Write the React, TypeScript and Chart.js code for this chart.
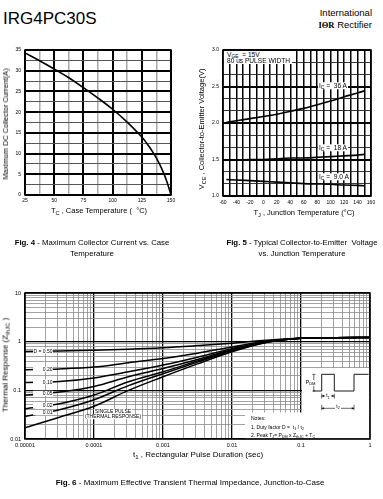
import React, { useEffect, useRef } from "react";
import { Chart, registerables } from "chart.js";

Chart.register(...registerables);

const FONT = "'Liberation Sans', Arial, Helvetica, sans-serif";

// ---------- Fig. 4 : Maximum collector current vs case temperature ----------
const fig4CaseTemp = [25, 37.5, 50, 62.5, 75, 87.5, 100, 112.5, 125, 130, 135, 140, 144, 147, 150];
const fig4MaxCurrent = [34.3, 32.4, 30.4, 28.3, 25.9, 23.4, 20.7, 17.6, 14.0, 12.2, 10.1, 7.6, 5.1, 2.8, 0];
const fig4XTickValues = [25, 50, 75, 100, 125, 150];
const fig4XTickLabels = ["25", "50", "75", "100", "125", "150"];
const fig4YTickValues = [0, 5, 10, 15, 20, 25, 30, 35];
const fig4YTickLabels = ["0", "5", "10", "15", "20", "25", "30", "35"];

// ---------- Fig. 5 : VCE vs junction temperature ----------
const fig5JunctionTemp = [-55, -40, -20, 0, 20, 40, 60, 80, 100, 120, 140, 150];
const fig5Vce36A = [2.01, 2.03, 2.06, 2.09, 2.12, 2.16, 2.2, 2.25, 2.3, 2.36, 2.41, 2.44];
const fig5Vce18A = [1.49, 1.49, 1.5, 1.5, 1.51, 1.52, 1.52, 1.53, 1.54, 1.55, 1.56, 1.57];
const fig5Vce9A = [1.225, 1.22, 1.21, 1.2, 1.19, 1.18, 1.17, 1.165, 1.16, 1.15, 1.145, 1.14];
const fig5XTickValues = [-60, -40, -20, 0, 20, 40, 60, 80, 100, 120, 140, 160];
const fig5XTickLabels = ["-60", "-40", "-20", "0", "20", "40", "60", "80", "100", "120", "140", "160"];
const fig5YTickValues = [1.0, 1.5, 2.0, 2.5, 3.0];
const fig5YTickLabels = ["1.0", "1.5", "2.0", "2.5", "3.0"];

// ---------- Fig. 6 : Transient thermal impedance ----------
const fig6PulseDuration = [0.00001, 0.0000316, 0.0001, 0.000316, 0.001, 0.00316, 0.01, 0.0316, 0.1, 0.316, 1];
const fig6D050 = [0.63, 0.645, 0.67, 0.7, 0.75, 0.83, 0.93, 1.07, 1.18, 1.21, 1.22];
const fig6D020 = [0.265, 0.275, 0.3, 0.37, 0.45, 0.58, 0.78, 1.02, 1.17, 1.21, 1.22];
const fig6D010 = [0.145, 0.152, 0.18, 0.24, 0.33, 0.48, 0.72, 1.0, 1.17, 1.21, 1.22];
const fig6D005 = [0.08, 0.092, 0.12, 0.19, 0.28, 0.43, 0.69, 0.99, 1.17, 1.21, 1.22];
const fig6D002 = [0.042, 0.053, 0.08, 0.15, 0.24, 0.4, 0.66, 0.98, 1.17, 1.21, 1.22];
const fig6D001 = [0.029, 0.04, 0.064, 0.125, 0.22, 0.38, 0.64, 0.97, 1.17, 1.21, 1.22];
const fig6Single = [0.017, 0.028, 0.047, 0.1, 0.19, 0.35, 0.62, 0.96, 1.17, 1.21, 1.22];
const fig6Series = [fig6D050, fig6D020, fig6D010, fig6D005, fig6D002, fig6D001, fig6Single];
const fig6DutyLabels = ["D = 0.50", "0.20", "0.10", "0.05", "0.02", "0.01"];
const fig6XTickValues = [0.00001, 0.0001, 0.001, 0.01, 0.1, 1];
const fig6XTickLabels = ["0.00001", "0.0001", "0.001", "0.01", "0.1", "1"];
const fig6YTickValues = [0.01, 0.1, 1, 10];
const fig6YTickLabels = ["0.01", "0.1", "1", "10"];

// ---------- helpers ----------
function stepTicks(min: number, max: number, step: number) {
  const out: number[] = [];
  const n = Math.round((max - min) / step);
  for (let i = 0; i <= n; i++) out.push(+(min + i * step).toFixed(6));
  return out;
}
function logGridValues(minExp: number, maxExp: number) {
  const out: number[] = [];
  for (let e = minExp; e < maxExp; e++)
    for (let m = 1; m <= 9; m++) out.push(+(m * Math.pow(10, e)).toPrecision(6));
  out.push(+Math.pow(10, maxExp).toPrecision(6));
  return out;
}
function same(a: number, b: number) {
  return Math.abs(a - b) <= 1e-6 * Math.max(Math.abs(a), Math.abs(b), 1e-12);
}
function isIn(values: number[], v: any) {
  return typeof v === "number" && values.some((t) => same(t, v));
}
function labelFor(values: number[], labels: string[], v: any) {
  const i = values.findIndex((t) => same(t, v));
  return i >= 0 ? labels[i] : "";
}
function interpLogLog(xs: number[], ys: number[], x: number) {
  const lx = Math.log10(x);
  for (let i = 0; i < xs.length - 1; i++) {
    const a = Math.log10(xs[i]);
    const b = Math.log10(xs[i + 1]);
    if (lx >= a && lx <= b) {
      const t = (lx - a) / (b - a);
      return Math.pow(10, Math.log10(ys[i]) + t * (Math.log10(ys[i + 1]) - Math.log10(ys[i])));
    }
  }
  return ys[0];
}
const tickFont = (size: number) => ({ family: FONT, size });
const gridStyle = (majors: number[], majorColor: string, minorColor: string, majorW: number, minorW: number) => ({
  drawTicks: false,
  color: (c: any) => (c.tick && isIn(majors, c.tick.value) ? majorColor : minorColor),
  lineWidth: (c: any) => (c.tick && isIn(majors, c.tick.value) ? majorW : minorW),
});

const framePlugin = {
  id: "frame",
  afterDatasetsDraw(chart: any) {
    const { ctx, chartArea: a } = chart;
    ctx.save();
    ctx.strokeStyle = "#000";
    ctx.lineWidth = 1.5;
    ctx.strokeRect(a.left, a.top, a.right - a.left, a.bottom - a.top);
    ctx.restore();
  },
};

const baseOptions = {
  animation: false,
  responsive: false,
  devicePixelRatio: 1,
  events: [],
  plugins: { legend: { display: false }, tooltip: { enabled: false } },
};

const lineDs = (xs: number[], ys: number[], w = 1.6, smooth: any = { cubicInterpolationMode: "monotone" }) => ({
  data: xs.map((x, i) => ({ x, y: ys[i] })),
  borderColor: "#000",
  borderWidth: w,
  pointRadius: 0,
  fill: false,
  ...smooth,
});

function fig4Config(): any {
  return {
    type: "line",
    data: { datasets: [lineDs(fig4CaseTemp, fig4MaxCurrent, 1.6, { tension: 0.4 })] },
    options: {
      ...baseOptions,
      layout: { padding: { top: 10, right: 17, left: 0, bottom: 0 } },
      scales: {
        x: {
          type: "linear",
          min: 25,
          max: 150,
          afterBuildTicks: (s: any) => {
            s.ticks = stepTicks(25, 150, 12.5).map((value) => ({ value }));
          },
          afterFit: (s: any) => {
            s.height = 25;
          },
          ticks: {
            autoSkip: false,
            maxRotation: 0,
            padding: 3,
            color: "#000",
            font: tickFont(5),
            callback: (v: any) => labelFor(fig4XTickValues, fig4XTickLabels, v),
          },
          grid: gridStyle(fig4XTickValues, "#000", "#a8a8a8", 2, 1.5),
          border: { display: false },
        },
        y: {
          type: "linear",
          min: 0,
          max: 35,
          afterBuildTicks: (s: any) => {
            s.ticks = stepTicks(0, 35, 2.5).map((value) => ({ value }));
          },
          afterFit: (s: any) => {
            s.width = 25;
          },
          ticks: {
            autoSkip: false,
            padding: 4,
            color: "#000",
            font: tickFont(5),
            callback: (v: any) => labelFor(fig4YTickValues, fig4YTickLabels, v),
          },
          grid: gridStyle(fig4YTickValues, "#000", "#555", 2, 1),
          border: { display: false },
        },
      },
    },
    plugins: [framePlugin],
  };
}

function fig5Config(): any {
  return {
    type: "line",
    data: {
      datasets: [
        lineDs(fig5JunctionTemp, fig5Vce36A),
        lineDs(fig5JunctionTemp, fig5Vce18A),
        lineDs(fig5JunctionTemp, fig5Vce9A),
      ],
    },
    options: {
      ...baseOptions,
      layout: { padding: { top: 10, right: 9, left: 0, bottom: 0 } },
      scales: {
        x: {
          type: "linear",
          min: -60,
          max: 160,
          afterBuildTicks: (s: any) => {
            s.ticks = stepTicks(-60, 160, 10).map((value) => ({ value }));
          },
          afterFit: (s: any) => {
            s.height = 24;
          },
          ticks: {
            autoSkip: false,
            maxRotation: 0,
            padding: 4,
            color: "#000",
            font: tickFont(5),
            callback: (v: any) => labelFor(fig5XTickValues, fig5XTickLabels, v),
          },
          grid: gridStyle(fig5XTickValues, "#000", "#000", 1.5, 1.5),
          border: { display: false },
        },
        y: {
          type: "linear",
          min: 1,
          max: 3,
          afterBuildTicks: (s: any) => {
            s.ticks = stepTicks(1, 3, 0.5 / 3).map((value) => ({ value }));
          },
          afterFit: (s: any) => {
            s.width = 33;
          },
          ticks: {
            autoSkip: false,
            padding: 4,
            color: "#000",
            font: tickFont(5),
            callback: (v: any) => labelFor(fig5YTickValues, fig5YTickLabels, v),
          },
          grid: gridStyle(fig5YTickValues, "#000", "#222", 2, 0.9),
          border: { display: false },
        },
      },
    },
    plugins: [framePlugin],
  };
}

function drawSubText(ctx: any, main: string, sub: string, x: number, y: number, size: number, align: string) {
  ctx.font = `${size}px ${FONT}`;
  const w1 = ctx.measureText(main).width;
  ctx.font = `${size * 0.75}px ${FONT}`;
  const w2 = ctx.measureText(sub).width;
  const total = w1 + w2;
  let x0 = x;
  if (align === "center") x0 = x - total / 2;
  if (align === "right") x0 = x - total;
  ctx.textAlign = "left";
  ctx.textBaseline = "middle";
  ctx.font = `${size}px ${FONT}`;
  ctx.fillText(main, x0, y);
  ctx.font = `${size * 0.75}px ${FONT}`;
  ctx.fillText(sub, x0 + w1, y + size * 0.3);
  return total;
}

function arrowHead(ctx: any, x: number, y: number, dir: number) {
  ctx.beginPath();
  ctx.moveTo(x, y);
  ctx.lineTo(x - dir * 2.2, y - 1.1);
  ctx.lineTo(x - dir * 2.2, y + 1.1);
  ctx.closePath();
  ctx.fill();
}

const fig6Decor = {
  id: "fig6Decor",
  beforeDatasetsDraw(chart: any) {
    const { ctx, chartArea: a } = chart;
    ctx.save();
    ctx.fillStyle = "#fff";
    ctx.fillRect(a.right - 125, a.bottom - 26.5, 124.5, 26);
    ctx.fillRect(a.right - 68, a.bottom - 71, 67.5, 45);
    ctx.restore();
  },
  afterDatasetsDraw(chart: any) {
    const { ctx, chartArea: a } = chart;
    const xs = chart.scales.x;
    const ys = chart.scales.y;
    ctx.save();
    // duty cycle labels
    fig6DutyLabels.forEach((text, i) => {
      const xv = xs.getValueForPixel(a.left + 20);
      const yv = interpLogLog(fig6PulseDuration, fig6Series[i], xv);
      const py = ys.getPixelForValue(yv);
      ctx.fillStyle = "#fff";
      ctx.fillRect(a.left + 8, py - 2.6, 20, 5.2);
      ctx.fillStyle = "#000";
      ctx.font = `5px ${FONT}`;
      ctx.textAlign = "right";
      ctx.textBaseline = "middle";
      ctx.fillText(text, a.left + 27.5, py + 0.3);
    });

    // pulse waveform inset
    const R = a.right;
    const B = a.bottom;
    const base = B - 48;
    const high = B - 64.7;
    ctx.strokeStyle = "#000";
    ctx.fillStyle = "#000";
    ctx.lineWidth = 0.9;
    ctx.beginPath();
    ctx.moveTo(R - 56.7, base);
    ctx.lineTo(R - 48.3, base);
    ctx.lineTo(R - 48.3, high);
    ctx.lineTo(R - 35.7, high);
    ctx.lineTo(R - 35.7, base);
    ctx.lineTo(R - 16, base);
    ctx.lineTo(R - 16, high);
    ctx.lineTo(R - 1.5, high);
    ctx.stroke();
    // PDM bracket
    ctx.lineWidth = 0.6;
    ctx.beginPath();
    ctx.moveTo(R - 57.7, high);
    ctx.lineTo(R - 54.7, high);
    ctx.moveTo(R - 56.2, high);
    ctx.lineTo(R - 56.2, base);
    ctx.moveTo(R - 57.7, base);
    ctx.lineTo(R - 54.7, base);
    ctx.stroke();
    ctx.fillStyle = "#fff";
    ctx.fillRect(R - 65, B - 59, 12, 6);
    ctx.fillStyle = "#000";
    drawSubText(ctx, "P", "DM", R - 59.5, B - 56.6, 5.5, "center");
    // t1
    const t1y = B - 43;
    ctx.beginPath();
    ctx.moveTo(R - 48.3, t1y - 2.5);
    ctx.lineTo(R - 48.3, t1y + 2.5);
    ctx.moveTo(R - 35.7, t1y - 2.5);
    ctx.lineTo(R - 35.7, t1y + 2.5);
    ctx.moveTo(R - 48.3, t1y);
    ctx.lineTo(R - 35.7, t1y);
    ctx.stroke();
    arrowHead(ctx, R - 48.3, t1y, -1);
    arrowHead(ctx, R - 35.7, t1y, 1);
    ctx.fillStyle = "#fff";
    ctx.fillRect(R - 45, t1y - 2.5, 6, 5);
    ctx.fillStyle = "#000";
    drawSubText(ctx, "t", "1", R - 42, t1y, 5, "center");
    // t2
    const t2y = B - 30.7;
    ctx.beginPath();
    ctx.moveTo(R - 48.3, t2y - 3.5);
    ctx.lineTo(R - 48.3, t2y + 2);
    ctx.moveTo(R - 16, t2y - 3.5);
    ctx.lineTo(R - 16, t2y + 2);
    ctx.moveTo(R - 48.3, t2y);
    ctx.lineTo(R - 16, t2y);
    ctx.stroke();
    arrowHead(ctx, R - 48.3, t2y, -1);
    arrowHead(ctx, R - 16, t2y, 1);
    ctx.fillStyle = "#fff";
    ctx.fillRect(R - 35, t2y - 2.5, 6, 5);
    ctx.fillStyle = "#000";
    drawSubText(ctx, "t", "2", R - 32, t2y - 1.5, 5, "center");
    ctx.restore();
  },
};

function fig6Config(): any {
  return {
    type: "line",
    data: { datasets: fig6Series.map((s) => lineDs(fig6PulseDuration, s, 1.5)) },
    options: {
      ...baseOptions,
      layout: { padding: { top: 13, right: 13, left: 0, bottom: 0 } },
      scales: {
        x: {
          type: "logarithmic",
          min: 0.00001,
          max: 1,
          afterBuildTicks: (s: any) => {
            s.ticks = logGridValues(-5, 0).map((value) => ({ value }));
          },
          afterFit: (s: any) => {
            s.height = 11;
          },
          ticks: {
            autoSkip: false,
            maxRotation: 0,
            padding: 3,
            color: "#000",
            font: tickFont(5.5),
            callback: (v: any) => labelFor(fig6XTickValues, fig6XTickLabels, v),
          },
          grid: gridStyle(fig6XTickValues, "#000", "#8c8c8c", 1.3, 0.8),
          border: { display: false },
        },
        y: {
          type: "logarithmic",
          min: 0.01,
          max: 10,
          afterBuildTicks: (s: any) => {
            s.ticks = logGridValues(-2, 1).map((value) => ({ value }));
          },
          afterFit: (s: any) => {
            s.width = 25;
          },
          ticks: {
            autoSkip: false,
            padding: 4,
            color: "#000",
            font: tickFont(5.5),
            callback: (v: any) => labelFor(fig6YTickValues, fig6YTickLabels, v),
          },
          grid: gridStyle(fig6YTickValues, "#000", "#8c8c8c", 1.3, 0.8),
          border: { display: false },
        },
      },
    },
    plugins: [framePlugin, fig6Decor],
  };
}

function ChartBox(props: { left: number; top: number; width: number; height: number; make: () => any }) {
  const ref = useRef<HTMLCanvasElement>(null);
  useEffect(() => {
    const chart = new Chart(ref.current as HTMLCanvasElement, props.make());
    return () => chart.destroy();
  }, []);
  return (
    <div style={{ position: "absolute", left: props.left, top: props.top, width: props.width, height: props.height }}>
      <canvas
        ref={ref}
        width={props.width}
        height={props.height}
        style={{ width: props.width, height: props.height, display: "block" }}
      />
    </div>
  );
}

function Txt(props: {
  x: number;
  y: number;
  size?: number;
  anchor?: "left" | "center" | "right";
  rotate?: boolean;
  bg?: boolean;
  weight?: number;
  family?: string;
  children: any;
}) {
  const ax = props.anchor === "left" ? "0" : props.anchor === "right" ? "-100%" : "-50%";
  return (
    <div
      style={{
        position: "absolute",
        left: props.x,
        top: props.y,
        transform: `translate(${ax}, -50%)${props.rotate ? " rotate(-90deg)" : ""}`,
        transformOrigin: props.rotate ? "50% 50%" : undefined,
        fontSize: props.size ?? 7.5,
        fontFamily: props.family ?? FONT,
        fontWeight: props.weight ?? 400,
        whiteSpace: "pre",
        lineHeight: 1.1,
        color: "#000",
        background: props.bg ? "#fff" : "transparent",
        padding: props.bg ? "0 1px" : 0,
      }}
    >
      {props.children}
    </div>
  );
}

const Sub = (p: { children: any }) => (
  <span style={{ fontSize: "0.75em", position: "relative", top: "0.3em" }}>{p.children}</span>
);

export default function App() {
  return (
    <div
      style={{
        position: "absolute",
        left: 0,
        top: 0,
        width: 383,
        height: 499,
        background: "#fff",
        overflow: "hidden",
      }}
    >
      {/* header */}
      <Txt x={3} y={19} size={17} anchor="left">
        IRG4PC30S
      </Txt>
      <Txt x={372} y={13} size={9.5} anchor="right">
        International
      </Txt>
      <Txt x={372} y={25} size={9.5} anchor="right">
        <span style={{ fontWeight: 700, fontFamily: "'Liberation Serif', serif", fontSize: 8.5 }}>IΘR</span>
        <span> Rectifier</span>
      </Txt>

      {/* Fig. 4 */}
      <ChartBox left={0} top={40} width={188} height={180} make={fig4Config} />
      <Txt x={5.5} y={124} size={7.3} rotate>
        Maximum DC Collector Current(A)
      </Txt>
      <Txt x={99} y={211} size={7.5}>
        T<Sub>C</Sub> , Case Temperature (  °C)
      </Txt>
      <Txt x={92} y={243} size={7.8}>
        <b>Fig. 4</b> - Maximum Collector Current vs. Case
      </Txt>
      <Txt x={92} y={254} size={7.8}>
        Temperature
      </Txt>

      {/* Fig. 5 */}
      <ChartBox left={190} top={40} width={190} height={180} make={fig5Config} />
      <div
        style={{
          position: "absolute",
          left: 224,
          top: 51,
          width: 68,
          height: 13,
          background: "#fff",
        }}
      />
      <Txt x={227} y={54.5} size={6.6} anchor="left">
        V<Sub>GE</Sub>  = 15V
      </Txt>
      <Txt x={227} y={61} size={6.6} anchor="left">
        80 us PULSE WIDTH
      </Txt>
      <Txt x={318} y={86} size={6.6} anchor="left" bg>
        I<Sub>C</Sub> =  36 A
      </Txt>
      <Txt x={318} y={148} size={6.6} anchor="left" bg>
        I<Sub>C</Sub> =  18 A
      </Txt>
      <Txt x={318} y={176.5} size={6.6} anchor="left" bg>
        I<Sub>C</Sub> =  9.0 A
      </Txt>
      <Txt x={202} y={129} size={7.5} rotate>
        V<Sub>CE</Sub> , Collector-to-Emitter Voltage(V)
      </Txt>
      <Txt x={304} y={213} size={7.5}>
        T<Sub>J</Sub> , Junction Temperature (°C)
      </Txt>
      <Txt x={302} y={243} size={7.8}>
        <b>Fig. 5</b> - Typical Collector-to-Emitter  Voltage
      </Txt>
      <Txt x={302} y={254} size={7.8}>
        vs. Junction Temperature
      </Txt>

      {/* Fig. 6 */}
      <ChartBox left={0} top={280} width={383} height={170} make={fig6Config} />
      <Txt x={5.5} y={365} size={8} rotate>
        Thermal Response (Z<Sub>thJC</Sub> )
      </Txt>
      <Txt x={113} y={411.5} size={5} bg>
        SINGLE PULSE
      </Txt>
      <Txt x={113} y={416.8} size={5} bg>
        (THERMAL RESPONSE)
      </Txt>
      <Txt x={251} y={419} size={5} anchor="left">
        Notes:
      </Txt>
      <Txt x={251} y={427.5} size={5} anchor="left">
        1. Duty factor D =  t<Sub>1</Sub> / t<Sub>2</Sub>
      </Txt>
      <Txt x={251} y={435.5} size={5} anchor="left">
        2. Peak T<Sub>J</Sub>= P<Sub>DM</Sub> x Z<Sub>thJC</Sub> + T<Sub>C</Sub>
      </Txt>
      <Txt x={198} y={455} size={8}>
        t<Sub>1</Sub> , Rectangular Pulse Duration (sec)
      </Txt>
      <Txt x={190} y={483} size={8}>
        <b>Fig. 6</b> - Maximum Effective Transient Thermal Impedance, Junction-to-Case
      </Txt>
    </div>
  );
}
